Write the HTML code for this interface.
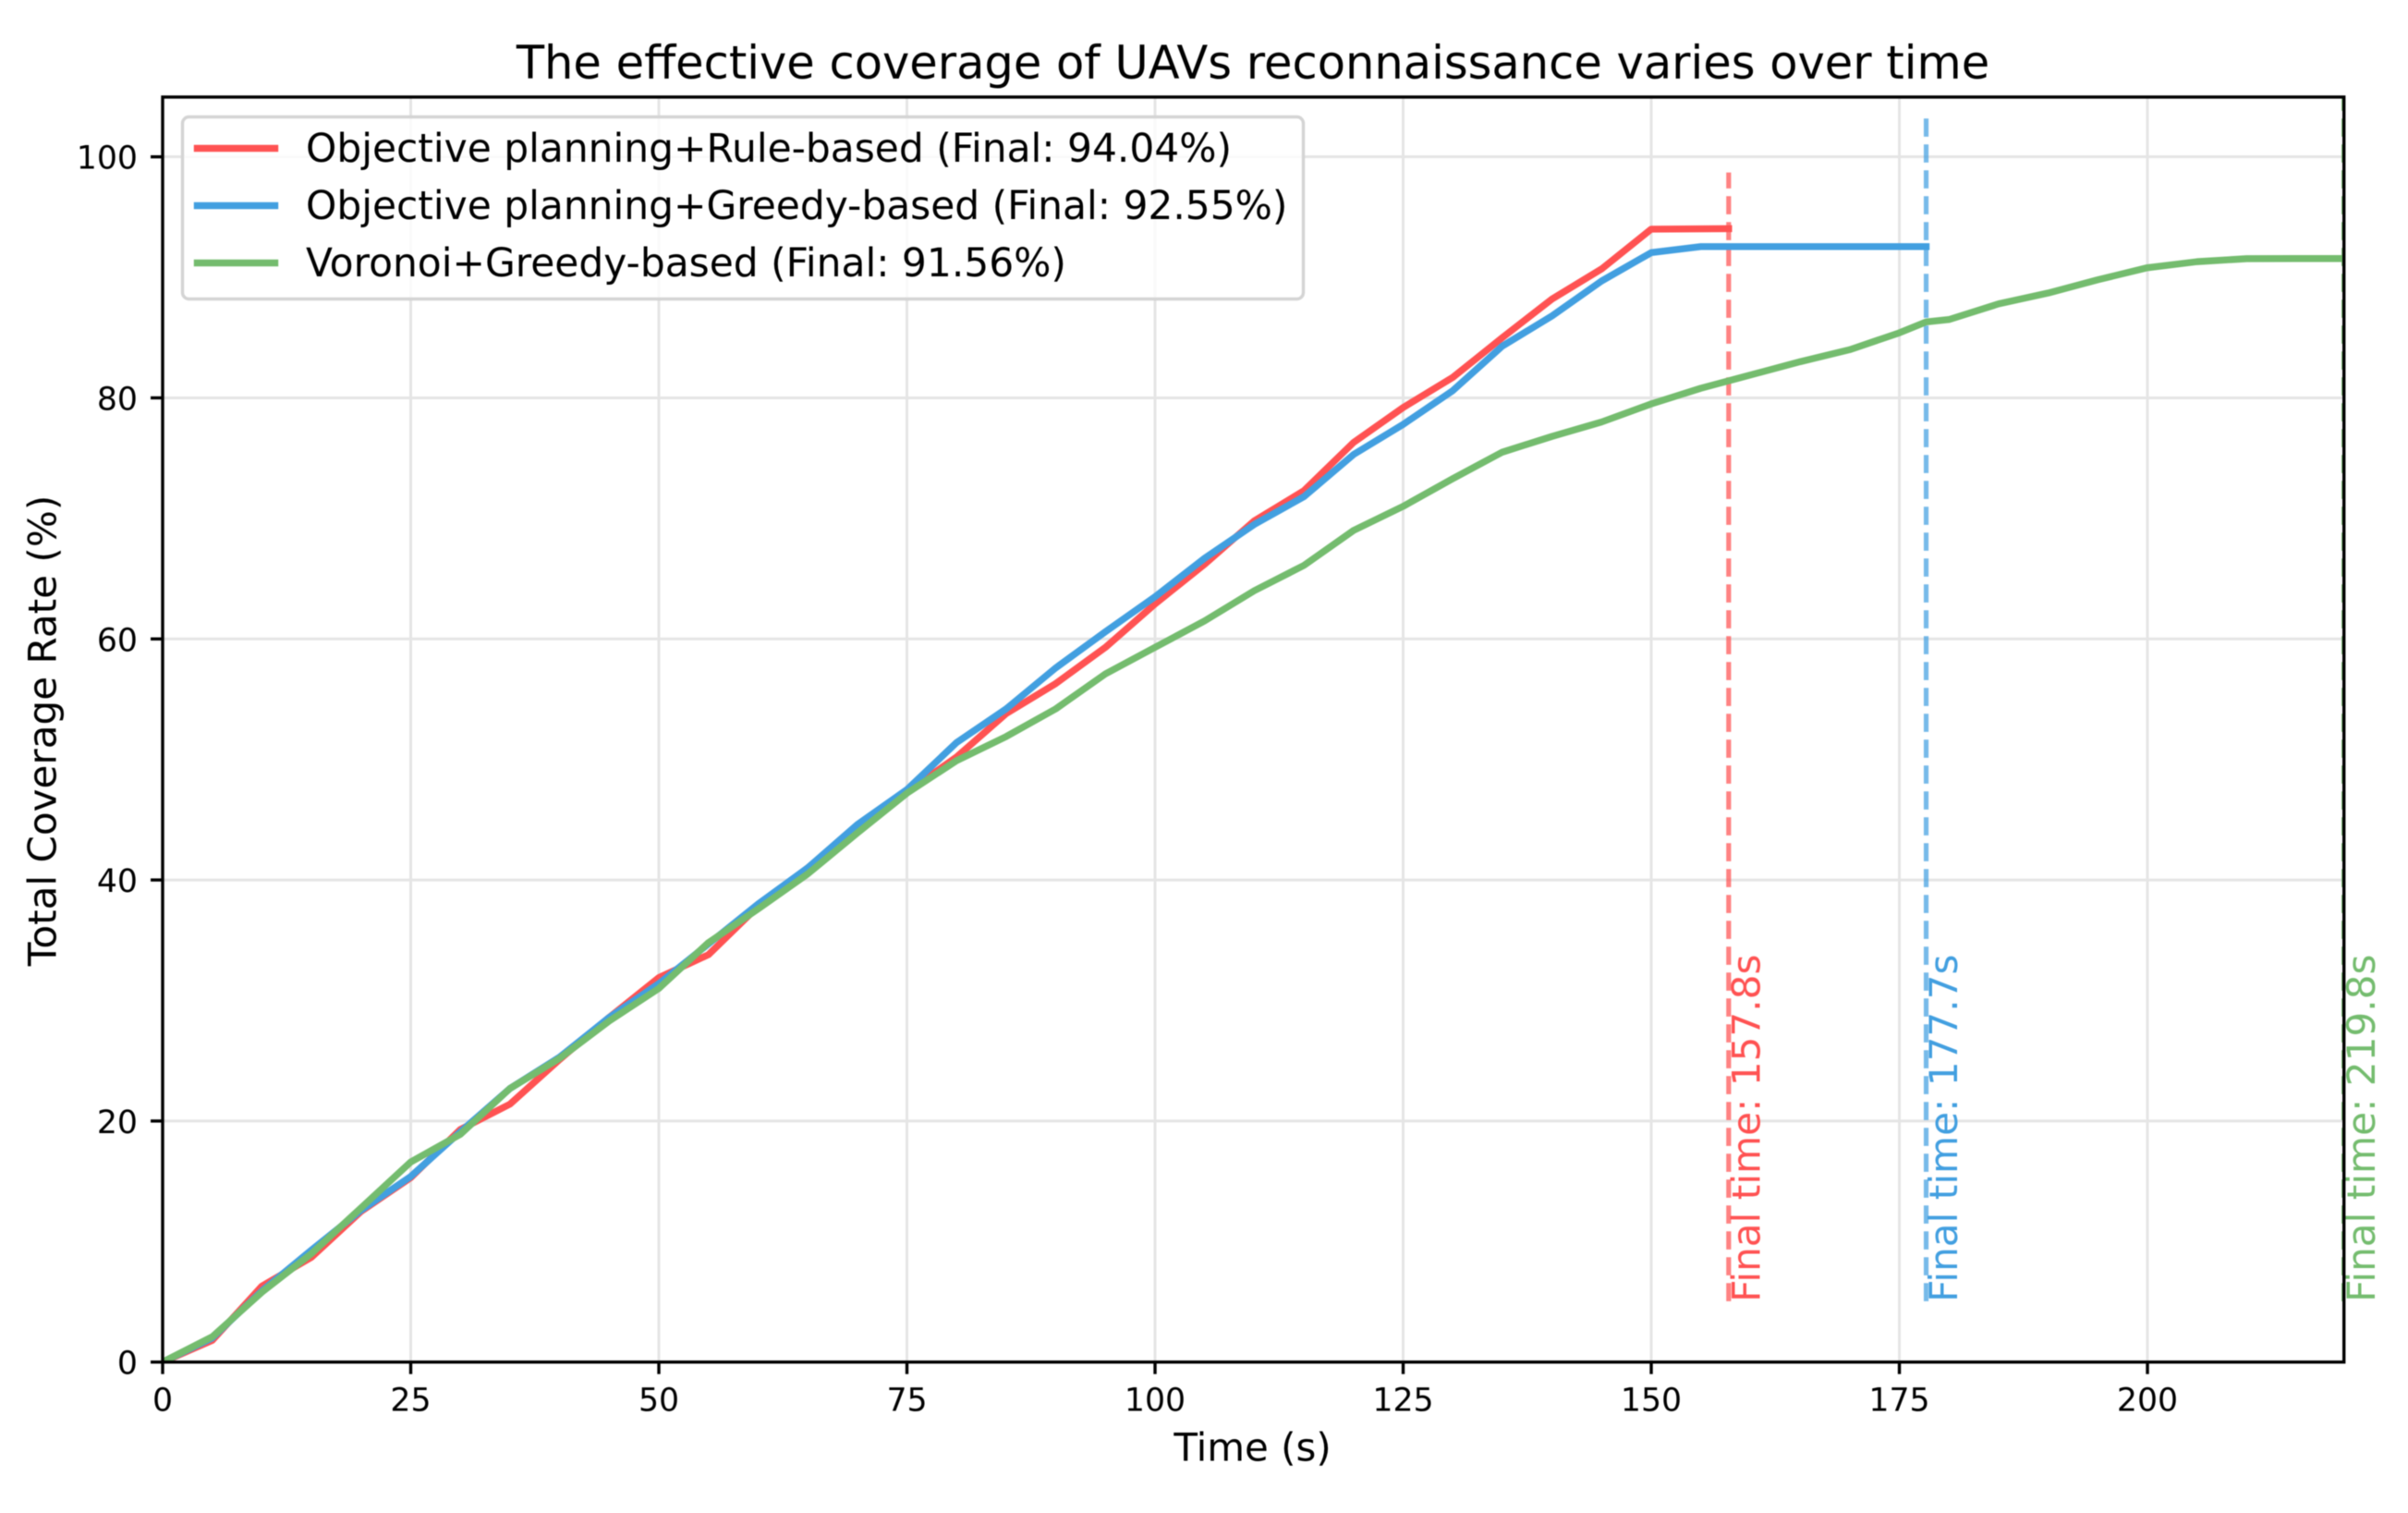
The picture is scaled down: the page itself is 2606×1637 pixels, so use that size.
<!DOCTYPE html>
<html lang="en">
<head>
<meta charset="utf-8">
<title>UAV reconnaissance coverage over time</title>
<style>
  html, body { margin: 0; padding: 0; background: #fff; }
  svg { display: block; font-family: "DejaVu Sans", "Liberation Sans", sans-serif; filter: blur(0.6px); }
</style>
</head>
<body>
<svg id="chart" xmlns="http://www.w3.org/2000/svg" width="2606" height="1637" viewBox="0 0 2606 1637">
  <defs>
    <clipPath id="plot-clip"><rect x="175" y="105" width="2362" height="1369"/></clipPath>
  </defs>
  <rect x="0" y="0" width="2606" height="1637" fill="#ffffff"/>
  <g id="grid-layer"></g>
  <g id="series-layer" clip-path="url(#plot-clip)"></g>
  <g id="final-label-layer"></g>
  <g id="axis-layer"></g>
  <text x="1356" y="85" text-anchor="middle" font-size="49.5" fill="#000">The effective coverage of UAVs reconnaissance varies over time</text>
  <text x="1355.5" y="1580.5" text-anchor="middle" font-size="41.9" fill="#000">Time (s)</text>
  <text transform="translate(60.5 790.5) rotate(-90)" text-anchor="middle" font-size="42.1" fill="#000">Total Coverage Rate (%)</text>
  <g>
    <rect x="197.5" y="126.5" width="1213" height="197" rx="7" ry="7" fill="#ffffff" fill-opacity="0.8" stroke="#d4d4d4" stroke-width="3.4"/>
    <g>
      <line x1="213.5" x2="297.5" y1="160.5" y2="160.5" stroke="#ff5252" stroke-width="7.4" stroke-linecap="square"/>
      <text x="331" y="175" font-size="42.35" fill="#000">Objective planning+Rule-based (Final: 94.04%)</text>
    </g>
    <g>
      <line x1="213.5" x2="297.5" y1="222.5" y2="222.5" stroke="#429fe0" stroke-width="7.4" stroke-linecap="square"/>
      <text x="331" y="237" font-size="42.35" fill="#000">Objective planning+Greedy-based (Final: 92.55%)</text>
    </g>
    <g>
      <line x1="213.5" x2="297.5" y1="284.5" y2="284.5" stroke="#74bc6e" stroke-width="7.4" stroke-linecap="square"/>
      <text x="331" y="299" font-size="42.35" fill="#000">Voronoi+Greedy-based (Final: 91.56%)</text>
    </g>
  </g>
</svg>
<script>
const xTickValues = [0, 25, 50, 75, 100, 125, 150, 175, 200];
const yTickValues = [0, 20, 40, 60, 80, 100];
const xDomain = [0, 219.8];
const yDomain = [0, 104.96];

const ruleTimes = [0, 5, 10, 15, 20, 25, 30, 35, 40, 45, 50, 55, 60, 65, 70, 75, 80, 85, 90, 95, 100, 105, 110, 115, 120, 125, 130, 135, 140, 145, 150, 157.8];
const ruleCoverage = [0, 1.8, 6.3, 8.7, 12.5, 15.3, 19.3, 21.4, 25.1, 28.6, 31.9, 33.8, 37.8, 41, 44.3, 47.3, 50.2, 53.8, 56.3, 59.3, 62.9, 66.2, 69.8, 72.3, 76.3, 79.2, 81.7, 85, 88.2, 90.7, 94, 94.04];

const objectiveGreedyTimes = [0, 5, 10, 15, 20, 25, 30, 35, 40, 45, 50, 55, 60, 65, 70, 75, 80, 85, 90, 95, 100, 105, 110, 115, 120, 125, 130, 135, 140, 145, 150, 155, 177.7];
const objectiveGreedyCoverage = [0, 2, 5.9, 9.3, 12.6, 15.4, 19.1, 22.7, 25.3, 28.6, 31.4, 34.7, 38, 41, 44.6, 47.5, 51.4, 54.2, 57.6, 60.6, 63.5, 66.7, 69.5, 71.8, 75.3, 77.8, 80.6, 84.3, 86.8, 89.7, 92.05, 92.55, 92.55];

const voronoiTimes = [0, 5, 10, 15, 20, 25, 30, 35, 40, 45, 50, 55, 60, 65, 70, 75, 80, 85, 90, 95, 100, 105, 110, 115, 120, 125, 130, 135, 140, 145, 150, 155, 160, 165, 170, 175, 177.7, 180, 185, 190, 195, 200, 205, 210, 215, 219.8];
const voronoiCoverage = [0, 2.1, 5.8, 9, 12.8, 16.6, 18.9, 22.7, 25.2, 28.3, 31, 34.8, 37.6, 40.5, 43.9, 47.2, 49.9, 51.9, 54.2, 57.1, 59.3, 61.5, 64, 66.1, 69, 71, 73.3, 75.5, 76.8, 78, 79.5, 80.8, 81.9, 83, 84, 85.4, 86.3, 86.5, 87.8, 88.7, 89.8, 90.8, 91.3, 91.55, 91.56, 91.56];

const finalTimes = [157.8, 177.7, 219.8];
const finalLabels = ['Final time: 157.8s', 'Final time: 177.7s', 'Final time: 219.8s'];
const markerLowValue = 5.05;
const markerHighValues = [98.7, 103.3, 106];

const SVG_NS = 'http://www.w3.org/2000/svg';
const PLOT = { left: 176, right: 2536.7, top: 105, bottom: 1473.7 };
const RED = '#ff5252', BLUE = '#429fe0', GREEN = '#74bc6e';

function xScale(v) {
  return PLOT.left + (v - xDomain[0]) / (xDomain[1] - xDomain[0]) * (PLOT.right - PLOT.left);
}
function yScale(v) {
  return PLOT.bottom - (v - yDomain[0]) / (yDomain[1] - yDomain[0]) * (PLOT.bottom - PLOT.top);
}
function make(tag, attrs, parent) {
  const el = document.createElementNS(SVG_NS, tag);
  for (const k in attrs) el.setAttribute(k, attrs[k]);
  parent.appendChild(el);
  return el;
}

const gridLayer = document.getElementById('grid-layer');
const seriesLayer = document.getElementById('series-layer');
const labelLayer = document.getElementById('final-label-layer');
const axisLayer = document.getElementById('axis-layer');

xTickValues.forEach(function (v) {
  const gridLine = make('line', { x1: xScale(v), x2: xScale(v), y1: PLOT.top, y2: PLOT.bottom, stroke: '#e5e5e5', 'stroke-width': 3 }, gridLayer);
  
  
});
yTickValues.forEach(function (v) {
  const gridLine = make('line', { x1: PLOT.left, x2: PLOT.right, y1: yScale(v), y2: yScale(v), stroke: '#e5e5e5', 'stroke-width': 3 }, gridLayer);
  
  
});

function drawSeries(times, values, color, name) {
  const pts = times.map(function (t, i) { return xScale(t).toFixed(2) + ',' + yScale(values[i]).toFixed(2); }).join(' ');
  const line = make('polyline', { points: pts, fill: 'none', stroke: color, 'stroke-width': 7.4, 'stroke-linejoin': 'round', 'stroke-linecap': 'square' }, seriesLayer);
  
  
}
function drawMarker(index, color, opacity, name) {
  const x = xScale(finalTimes[index]);
  const marker = make('line', { x1: x, x2: x, y1: yScale(markerLowValue), y2: yScale(markerHighValues[index]), stroke: color, 'stroke-width': 5.2, 'stroke-opacity': opacity, 'stroke-dasharray': '19.6 8.4' }, seriesLayer);
  
  
}
function drawFinalLabel(index, color, name) {
  const x = xScale(finalTimes[index]) + 33.5;
  const y = yScale(markerLowValue) + 1;
  const label = make('text', { transform: 'translate(' + x + ' ' + y + ') rotate(-90)', 'font-size': 42.2, fill: color }, labelLayer);
  label.textContent = finalLabels[index];
  
  
}

drawMarker(0, RED, 0.72, 'final-time-marker-rule-based');
drawSeries(ruleTimes, ruleCoverage, RED, 'line-rule-based');
drawMarker(1, BLUE, 0.72, 'final-time-marker-objective-greedy');
drawSeries(objectiveGreedyTimes, objectiveGreedyCoverage, BLUE, 'line-objective-greedy');
drawMarker(2, GREEN, 1, 'final-time-marker-voronoi-greedy');
drawSeries(voronoiTimes, voronoiCoverage, GREEN, 'line-voronoi-greedy');
drawFinalLabel(0, RED, 'final-time-label-rule-based');
drawFinalLabel(1, BLUE, 'final-time-label-objective-greedy');
drawFinalLabel(2, GREEN, 'final-time-label-voronoi-greedy');

xTickValues.forEach(function (v) {
  const tick = make('line', { x1: xScale(v), x2: xScale(v), y1: PLOT.bottom, y2: PLOT.bottom + 13, stroke: '#000', 'stroke-width': 3.4 }, axisLayer);
  
  
  const label = make('text', { x: xScale(v), y: 1526.5, 'text-anchor': 'middle', 'font-size': 34.7, fill: '#000' }, axisLayer);
  label.textContent = String(v);
  
  
});
yTickValues.forEach(function (v) {
  const tick = make('line', { x1: PLOT.left - 13, x2: PLOT.left, y1: yScale(v), y2: yScale(v), stroke: '#000', 'stroke-width': 3.4 }, axisLayer);
  
  
  const label = make('text', { x: 149, y: yScale(v) + 13, 'text-anchor': 'end', 'font-size': 34.7, fill: '#000' }, axisLayer);
  label.textContent = String(v);
  
  
});

const frame = make('rect', { x: PLOT.left, y: PLOT.top, width: PLOT.right - PLOT.left, height: PLOT.bottom - PLOT.top, fill: 'none', stroke: '#000', 'stroke-width': 3.4 }, axisLayer);


</script>
</body>
</html>
